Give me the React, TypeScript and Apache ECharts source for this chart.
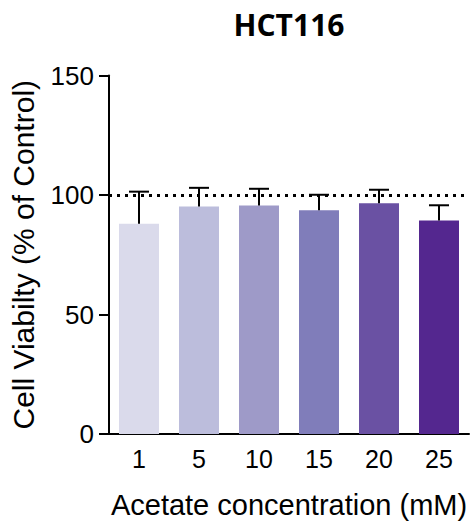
import React, { useEffect, useRef } from "react";
import * as echarts from "echarts";

const categories = ["1", "5", "10", "15", "20", "25"];
const means = [88.0, 95.2, 95.6, 93.6, 96.5, 89.3];
const sds = [13.4, 7.8, 7.0, 6.5, 5.7, 6.4];
const barColors = ["#dadaeb", "#bcbddc", "#9e9ac8", "#807dba", "#6a51a3", "#54278f"];
const yTicks = { min: 0, max: 150, interval: 50 };
const referenceLine = 100;
const titleText = "HCT116";
const xName = "Acetate concentration (mM)";
const yName = "Cell Viabilty (% of Control)";

export default function App() {
  const ref = useRef<HTMLDivElement>(null);
  useEffect(() => {
    if (!ref.current) return;
    const chart = echarts.init(ref.current, null, { renderer: "svg" });
    const axisFont = "'Liberation Sans', Arial, sans-serif";
    chart.setOption({
      animation: false,
      backgroundColor: "#ffffff",
      graphic: [
        {
          type: "text",
          x: 289,
          y: 24,
          style: {
            text: titleText,
            font: "bold 30px 'Open Sans', sans-serif",
            fill: "#000",
            textAlign: "center",
            textVerticalAlign: "middle",
          },
        },
      ],
      grid: { left: 109, right: 2, top: 75.5, bottom: 87, containLabel: false },
      xAxis: {
        type: "category",
        data: categories,
        name: xName,
        nameLocation: "middle",
        nameGap: 56,
        nameTextStyle: { fontSize: 29, color: "#000", fontFamily: axisFont },
        axisLine: { lineStyle: { color: "#000", width: 2 } },
        axisTick: { alignWithLabel: true, length: 7, lineStyle: { color: "#000", width: 2 } },
        axisLabel: { fontSize: 25, color: "#000", fontFamily: axisFont, margin: 12 },
        splitLine: { show: false },
      },
      yAxis: {
        type: "value",
        min: yTicks.min,
        max: yTicks.max,
        interval: yTicks.interval,
        name: yName,
        nameLocation: "middle",
        nameGap: 71,
        nameTextStyle: { fontSize: 30, color: "#000", fontFamily: axisFont },
        axisLine: { show: true, lineStyle: { color: "#000", width: 2 } },
        axisTick: { show: true, length: 10, lineStyle: { color: "#000", width: 2 } },
        axisLabel: { fontSize: 26, color: "#000", fontFamily: axisFont, margin: 15 },
        splitLine: { show: false },
      },
      series: [
        {
          type: "bar",
          data: means.map((v, i) => ({ value: v, itemStyle: { color: barColors[i] } })),
          barWidth: 40,
          markLine: {
            silent: true,
            symbol: "none",
            label: { show: false },
            lineStyle: { color: "#000", type: [3, 5], width: 3 },
            data: [{ yAxis: referenceLine }],
          },
        },
        {
          type: "custom",
          z: 10,
          data: means.map((m, i) => [i, m + sds[i], m]),
          renderItem: (params: any, api: any) => {
            const i = api.value(0);
            const top = api.coord([i, api.value(1)]);
            const base = api.coord([i, api.value(2)]);
            const half = 10;
            const style = { stroke: "#000", lineWidth: 2 };
            return {
              type: "group",
              children: [
                { type: "line", shape: { x1: base[0], y1: base[1], x2: top[0], y2: top[1] }, style },
                { type: "line", shape: { x1: top[0] - half, y1: top[1], x2: top[0] + half, y2: top[1] }, style },
              ],
            };
          },
        },
      ],
    });
    return () => chart.dispose();
  }, []);
  return <div ref={ref} style={{ width: 471, height: 524, position: "absolute", left: 0, top: 0 }} />;
}
